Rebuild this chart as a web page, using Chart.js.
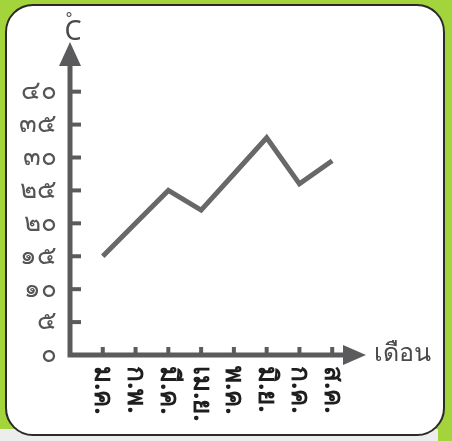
<!DOCTYPE html>
<html>
<head>
<meta charset="utf-8">
<script src="https://cdn.jsdelivr.net/npm/chart.js@4.4.0/dist/chart.umd.min.js"></script>
<style>
  html, body { margin: 0; padding: 0; }
  body { width: 452px; height: 441px; background: #a3d43b; position: relative; overflow: hidden; }
  .strip { position: absolute; left: 0; bottom: 0; width: 438px; height: 12px; background: #ededed; }
  .card { position: absolute; left: 5px; top: 4px; width: 440px; height: 432px; background: #fff;
          border: 2px solid #2a2a2a; border-radius: 28px; box-sizing: border-box; }
  #wrap { position: absolute; left: 0; top: 0; width: 452px; height: 441px; }
</style>
</head>
<body>
<div class="strip"></div>
<div class="card"></div>
<div id="wrap"><canvas id="chart" width="452" height="441"></canvas></div>
<script>
// data
const months = ['ม.ค.', 'ก.พ.', 'มี.ค.', 'เม.ย.', 'พ.ค.', 'มิ.ย.', 'ก.ค.', 'ส.ค.'];
const temps = [15, 20, 25, 22, 27.5, 33, 26, 29.5];
const yTicks = [0, 5, 10, 15, 20, 25, 30, 35, 40];
const thaiDigits = ['๐', '๑', '๒', '๓', '๔', '๕', '๖', '๗', '๘', '๙'];
const xTitle = 'เดือน';
const yUnit = 'C';

const toThai = n => String(n).split('').map(d => thaiDigits[+d] ?? d).join('');

const AXIS = '#5b5b5d';

// axes with arrow heads, inner ticks, rotated month labels
const axesPlugin = {
    id: 'axes',
    afterDraw(chart) {
        const { ctx } = chart;
        const xs = chart.scales.x, ys = chart.scales.y;
        const x0 = xs.getPixelForValue(0);
        const y0 = ys.getPixelForValue(0);
        const xEnd = xs.getPixelForValue(xs.max);
        const yEnd = ys.getPixelForValue(ys.max);

        ctx.save();
        ctx.strokeStyle = AXIS;
        ctx.fillStyle = AXIS;
        ctx.lineWidth = 5;
        ctx.lineCap = 'square';

        // axis lines
        ctx.beginPath();
        ctx.moveTo(x0, yEnd + 20);
        ctx.lineTo(x0, y0);
        ctx.lineTo(xEnd - 20, y0);
        ctx.stroke();

        // arrows
        ctx.beginPath();
        ctx.moveTo(x0, yEnd + 3);
        ctx.lineTo(x0 - 11, yEnd + 27);
        ctx.lineTo(x0 + 11, yEnd + 27);
        ctx.closePath();
        ctx.fill();
        ctx.beginPath();
        ctx.moveTo(xEnd + 1, y0);
        ctx.lineTo(xEnd - 22, y0 - 10);
        ctx.lineTo(xEnd - 22, y0 + 10);
        ctx.closePath();
        ctx.fill();

        // ticks
        ctx.lineWidth = 4;
        ctx.lineCap = 'butt';
        yTicks.slice(1).forEach(v => {
            const y = ys.getPixelForValue(v);
            ctx.beginPath();
            ctx.moveTo(x0, y);
            ctx.lineTo(x0 + 11, y);
            ctx.stroke();
        });
        months.forEach((m, i) => {
            const x = xs.getPixelForValue(i + 1);
            ctx.beginPath();
            ctx.moveTo(x, y0);
            ctx.lineTo(x, y0 - 8);
            ctx.stroke();
        });

        // month labels, rotated clockwise
        ctx.fillStyle = '#1e1e1e';
        ctx.font = 'bold 26px "Noto Sans", sans-serif';
        ctx.textAlign = 'left';
        ctx.textBaseline = 'middle';
        months.forEach((m, i) => {
            const x = xs.getPixelForValue(i + 1);
            ctx.save();
            ctx.translate(x, y0 + 11);
            ctx.rotate(Math.PI / 2);
            ctx.fillText(m, 0, 0);
            ctx.restore();
        });

        // axis titles
        ctx.fillStyle = '#4a4a4a';
        ctx.font = '25px "Noto Sans", sans-serif';
        ctx.fillText(xTitle, xEnd + 9, y0 - 1);
        ctx.textAlign = 'center';
        ctx.font = '27px "Noto Sans", sans-serif';
        ctx.fillText(yUnit, x0 + 3, yEnd - 7);
        ctx.font = '16px "DejaVu Sans", sans-serif';
        ctx.fillText('°', x0 - 1, yEnd - 19);
        ctx.restore();
    }
};

new Chart(document.getElementById('chart'), {
    type: 'line',
    data: {
        datasets: [{
            data: temps.map((t, i) => ({ x: i + 1, y: t })),
            borderColor: '#68686a',
            borderWidth: 5,
            borderJoinStyle: 'miter',
            pointRadius: 0,
            tension: 0,
            fill: false
        }]
    },
    options: {
        responsive: false,
        animation: false,
        layout: { padding: { top: 39, right: 87, left: 0, bottom: 0 } },
        plugins: { legend: { display: false }, tooltip: { enabled: false } },
        scales: {
            x: {
                type: 'linear',
                min: 0,
                max: 9,
                ticks: { display: false },
                grid: { display: false },
                border: { display: false },
                afterFit: s => { s.height = 86; }
            },
            y: {
                min: 0,
                max: 48,
                ticks: {
                    stepSize: 5,
                    autoSkip: false,
                    padding: 5,
                    color: '#555',
                    font: { size: 26, family: '"Noto Sans", sans-serif' },
                    callback: v => yTicks.includes(v) ? toThai(v) : ''
                },
                grid: { display: false },
                border: { display: false },
                afterFit: s => { s.width = 70; }
            }
        }
    },
    plugins: [axesPlugin]
});
</script>
</body>
</html>
